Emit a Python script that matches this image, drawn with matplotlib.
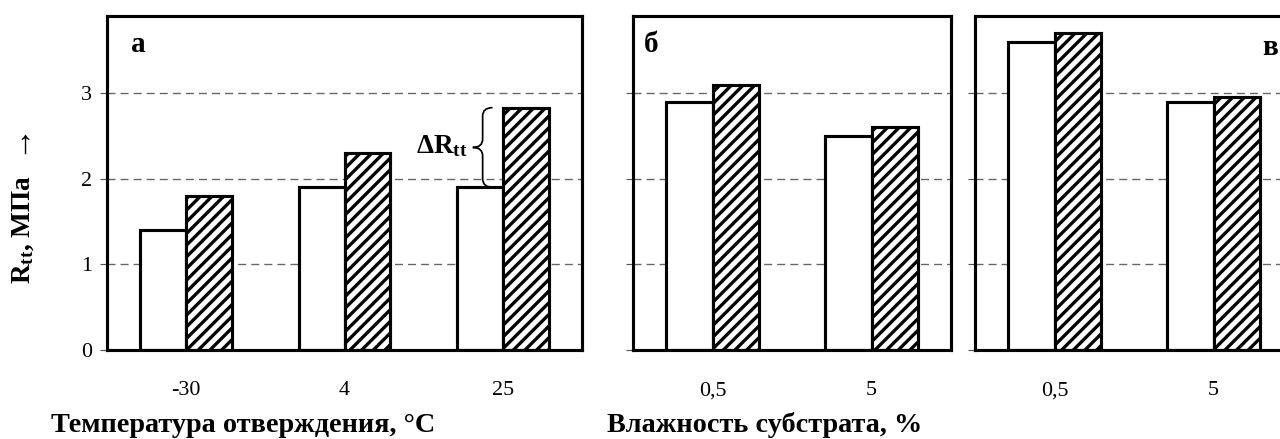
import matplotlib
matplotlib.use("Agg")
import matplotlib.pyplot as plt
from matplotlib.path import Path
from matplotlib.patches import PathPatch
import numpy as np

# ---------------- data ----------------
temp_labels = ["-30", "4", "25"]
temp_white = [1.4, 1.9, 1.9]
temp_hatched = [1.8, 2.3, 2.83]

hum_labels = ["0,5", "5"]
hum_b_white = [2.9, 2.5]
hum_b_hatched = [3.1, 2.6]
hum_c_white = [3.6, 2.9]
hum_c_hatched = [3.7, 2.95]

yticks = [0, 1, 2, 3]

# ---------------- style ----------------
DPI = 140
W, H = 1280, 439
plt.rcParams['font.family'] = ['Liberation Serif', 'DejaVu Serif']
plt.rcParams['mathtext.fontset'] = 'custom'
plt.rcParams['mathtext.rm'] = 'Liberation Serif'
plt.rcParams['mathtext.bf'] = 'Liberation Serif:bold'
plt.rcParams['mathtext.it'] = 'Liberation Serif:italic'
plt.rcParams['hatch.linewidth'] = 1.7

fig = plt.figure(figsize=(W / DPI, H / DPI), dpi=DPI)


def px_axes(x0, x1, ytop, ybot):
    return fig.add_axes([x0 / W, 1 - ybot / H, (x1 - x0) / W, (ybot - ytop) / H])


BW = 0.29
EDGE_LW = 1.6


def draw_panel(ax, labels, white, hatched, show_ylabels):
    x = np.arange(len(labels))
    ax.bar(x - BW / 2, white, BW, color='white', edgecolor='black',
           linewidth=EDGE_LW, zorder=3)
    ax.bar(x + BW / 2, hatched, BW, color='white', edgecolor='black',
           hatch='////', linewidth=EDGE_LW, zorder=3)
    ax.set_xlim(-0.5, len(labels) - 0.5)
    ax.set_ylim(0, 3.9)
    ax.set_yticks(yticks)
    ax.set_xticks(x)
    ax.set_xticklabels(labels, fontsize=11.3)
    ax.tick_params(axis='x', length=0, pad=16)
    ax.tick_params(axis='y', length=3.6, width=0.6, color='#555555',
                   direction='out', pad=4, labelsize=11.3,
                   labelleft=show_ylabels)
    ax.yaxis.grid(True, linestyle=(0, (5.9, 3.7)), linewidth=0.7,
                  color='#666666', zorder=0)
    ax.set_axisbelow(True)
    for s in ax.spines.values():
        s.set_linewidth(1.6)
        s.set_color('black')
        s.set_zorder(4)


ax_a = px_axes(107, 582, 16, 350)
ax_b = px_axes(633, 951, 16, 350)
ax_c = px_axes(975, 1293, 16, 350)

draw_panel(ax_a, temp_labels, temp_white, temp_hatched, True)
draw_panel(ax_b, hum_labels, hum_b_white, hum_b_hatched, False)
draw_panel(ax_c, hum_labels, hum_c_white, hum_c_hatched, False)

# panel letters
ax_a.text(0.05, 0.915, 'а', transform=ax_a.transAxes, fontsize=15,
          fontweight='bold', ha='left', va='center')
ax_b.text(0.035, 0.915, 'б', transform=ax_b.transAxes, fontsize=15,
          fontweight='bold', ha='left', va='center')
ax_c.text(0.952, 0.905, 'в', transform=ax_c.transAxes, fontsize=15,
          fontweight='bold', ha='right', va='center')

# brace showing delta R for the 25 °C group
ytop = temp_hatched[2]
ybot = temp_white[2]
ymid = (ytop + ybot) / 2
x0, x1 = 1.81, 1.935
xm = (x0 + x1) / 2
d = 0.1
verts = [(x1, ytop), (xm, ytop), (xm, ytop - d),
         (xm, ymid + d), (xm, ymid), (x0, ymid),
         (xm, ymid), (xm, ymid - d),
         (xm, ybot + d), (xm, ybot), (x1, ybot)]
codes = [Path.MOVETO, Path.CURVE3, Path.CURVE3,
         Path.LINETO, Path.CURVE3, Path.CURVE3,
         Path.CURVE3, Path.CURVE3,
         Path.LINETO, Path.CURVE3, Path.CURVE3]
ax_a.add_patch(PathPatch(Path(verts, codes), facecolor='none',
                         edgecolor='black', linewidth=0.9, zorder=5))
ax_a.text(x0 - 0.035, ymid + 0.02, r'$\mathbf{ΔR_{tt}}$', fontsize=14,
          ha='right', va='center', zorder=5)

# axis labels
fig.text(243 / W, 1 - 425 / H, 'Температура отверждения, °С', fontsize=14.5,
         fontweight='bold', ha='center', va='center')
fig.text(765 / W, 1 - 425 / H, 'Влажность субстрата, %', fontsize=14.5,
         fontweight='bold', ha='center', va='center')
fig.text(23 / W, 1 - 229 / H, r'$\mathbf{R_{tt}}$, МПа', fontsize=14,
         fontweight='bold', ha='center', va='center', rotation=90)
fig.text(17 / W, 1 - 137 / H, '→', fontsize=17,
         ha='center', va='center', rotation=90)

fig.savefig('out.png', dpi=DPI)
